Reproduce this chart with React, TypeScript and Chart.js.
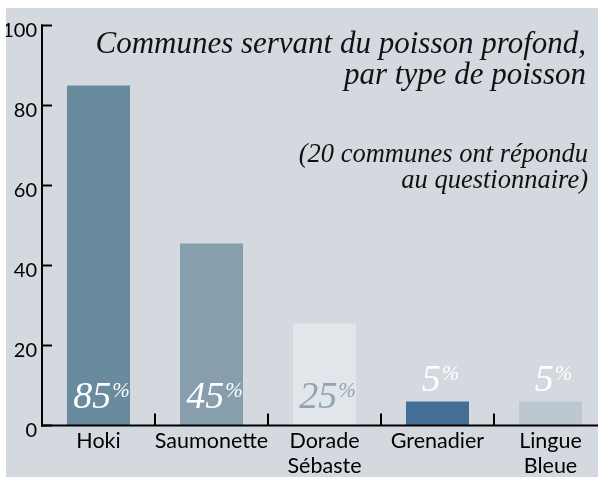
import React, { useEffect, useRef } from "react";
import { Chart, registerables } from "chart.js";

Chart.register(...registerables);

// ---- data ----
const categories: string[][] = [["Hoki"], ["Saumonette"], ["Dorade", "Sébaste"], ["Grenadier"], ["Lingue", "Bleue"]];
const barValues: number[] = [85, 45.5, 25.5, 6, 6];
const valueLabels: string[] = ["85", "45", "25", "5", "5"];
const yTicks: number[] = [0, 20, 40, 60, 80, 100];
const titleLines: string[] = ["Communes servant du poisson profond,", "par type de poisson"];
const subtitleLines: string[] = ["(20 communes ont répondu", "au questionnaire)"];

// ---- styles ----
const BG = "#d4d8df";
const barColors = ["#6a8a9d", "#879eac", "#e2e5ea", "#436e96", "#bdc7cf"];
const labelColors = ["#ffffff", "#ffffff", "#8ea4b2", "#ffffff", "#ffffff"];
const SANS = "Lato, 'Open Sans', sans-serif";
const SERIF = "'Liberation Serif', 'DejaVu Serif', serif";

const CANVAS_W = 620;
const CANVAS_H = 469;

const drawPlugin = {
  id: "customDraw",
  afterDraw(chart: any) {
    const ctx: CanvasRenderingContext2D = chart.ctx;
    const xs = chart.scales.x;
    const ys = chart.scales.y;
    const area = chart.chartArea;
    const y0 = ys.getPixelForValue(0);
    const yTop = ys.getPixelForValue(100);
    ctx.save();
    ctx.strokeStyle = "#000";
    ctx.fillStyle = "#000";
    ctx.lineWidth = 2;
    ctx.lineCap = "butt";

    // y axis line
    ctx.beginPath();
    ctx.moveTo(area.left, yTop - 1);
    ctx.lineTo(area.left, y0 + 1);
    ctx.stroke();
    // y ticks + labels
    ctx.font = `20px ${SANS}`;
    ctx.textAlign = "right";
    ctx.textBaseline = "middle";
    yTicks.forEach((v) => {
      const py = ys.getPixelForValue(v);
      ctx.beginPath();
      ctx.moveTo(area.left - 1, py);
      ctx.lineTo(area.left + 10, py);
      ctx.stroke();
      ctx.fillText(String(v), area.left - 5, py + 5);
    });

    // x axis line
    ctx.beginPath();
    ctx.moveTo(area.left - 1, y0);
    ctx.lineTo(CANVAS_W, y0);
    ctx.stroke();

    // category boundary ticks
    for (let i = 0; i < categories.length - 1; i++) {
      const bx = (xs.getPixelForValue(i) + xs.getPixelForValue(i + 1)) / 2;
      ctx.beginPath();
      ctx.moveTo(bx, y0 - 12);
      ctx.lineTo(bx, y0);
      ctx.stroke();
    }

    // x labels
    ctx.textAlign = "center";
    ctx.textBaseline = "alphabetic";
    ctx.font = `21.5px ${SANS}`;
    categories.forEach((lines, i) => {
      const cx = xs.getPixelForValue(i);
      lines.forEach((ln, j) => {
        ctx.fillText(ln, cx, y0 + 22.5 + j * 25);
      });
    });

    // value labels
    const meta = chart.getDatasetMeta(0);
    meta.data.forEach((bar: any, i: number) => {
      const num = valueLabels[i];
      ctx.font = `italic 38px ${SERIF}`;
      const wNum = ctx.measureText(num).width;
      ctx.font = `italic 21px ${SERIF}`;
      const wPct = ctx.measureText("%").width;
      const total = wNum + wPct + 1;
      const startX = bar.x - total / 2 + 3;
      const inside = barValues[i] > 15;
      const baseY = inside ? y0 - 18 : bar.y - 11;
      ctx.fillStyle = labelColors[i];
      ctx.textAlign = "left";
      ctx.font = `italic 38px ${SERIF}`;
      ctx.fillText(num, startX, baseY);
      ctx.font = `italic 21px ${SERIF}`;
      ctx.fillText("%", startX + wNum + 1, baseY - 11);
    });

    // title
    ctx.fillStyle = "#111";
    ctx.textAlign = "right";
    ctx.font = `italic 31px ${SERIF}`;
    ctx.fillText(titleLines[0], 580, 45);
    ctx.fillText(titleLines[1], 580, 76);
    ctx.font = `italic 26.5px ${SERIF}`;
    ctx.fillText(subtitleLines[0], 582, 154);
    ctx.fillText(subtitleLines[1], 582, 180);
    ctx.restore();
  },
};

export default function App() {
  const ref = useRef<HTMLCanvasElement | null>(null);
  useEffect(() => {
    if (!ref.current) return;
    const chart = new Chart(ref.current, {
      type: "bar",
      data: {
        labels: categories,
        datasets: [
          {
            data: barValues,
            backgroundColor: barColors,
            borderWidth: 0,
            barPercentage: 63 / 113,
            categoryPercentage: 1,
          },
        ],
      },
      options: {
        responsive: false,
        animation: false,
        devicePixelRatio: 1,
        layout: { padding: { left: 36, top: 17.5, right: 19, bottom: 51.5 } },
        plugins: { legend: { display: false }, tooltip: { enabled: false }, title: { display: false } },
        scales: {
          x: { display: false, offset: true },
          y: { display: false, min: 0, max: 100 },
        },
      },
      plugins: [drawPlugin],
    });
    return () => chart.destroy();
  }, []);
  return (
    <div
      style={{
        position: "absolute",
        left: 6,
        top: 8,
        width: 592,
        height: 469,
        overflow: "hidden",
        background: BG,
      }}
    >
      <canvas ref={ref} width={CANVAS_W} height={CANVAS_H} style={{ display: "block" }} />
    </div>
  );
}
